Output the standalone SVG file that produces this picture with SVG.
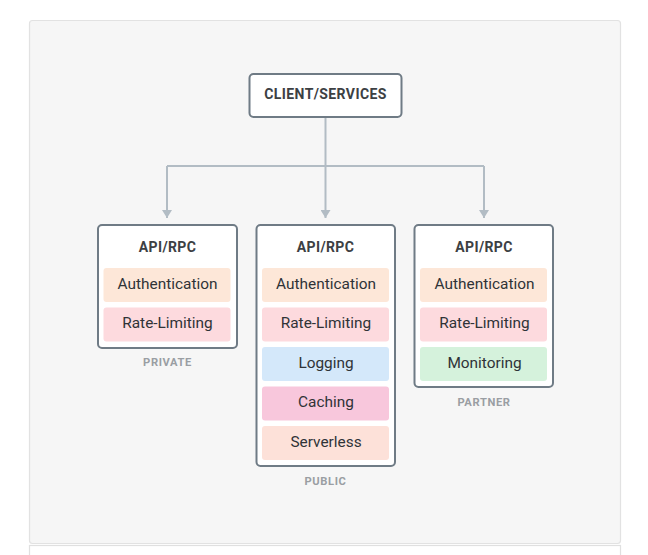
<svg xmlns="http://www.w3.org/2000/svg" width="648" height="555" viewBox="0 0 648 555">
<defs>
<style>
.panel{fill:#f6f6f6;stroke:#e2e2e2;stroke-width:1.2}
.node{fill:#fff;stroke:#6f7b85;stroke-width:2}
.title{font-family:Roboto,"Liberation Sans",sans-serif;font-weight:bold;font-size:14px;fill:#3c4043;text-anchor:middle;letter-spacing:0.4px}
.item{font-family:Roboto,"Liberation Sans",sans-serif;font-size:15.4px;fill:#2f3337;text-anchor:middle}
.lbl{font-family:Roboto,"Liberation Sans",sans-serif;font-weight:bold;font-size:11.2px;fill:#9a9ea3;text-anchor:middle;letter-spacing:0.6px}
.conn{fill:none;stroke:#b2bcc4;stroke-width:2}
.auth{fill:#fde7d8}.rate{fill:#fddade}.log{fill:#d4e8fa}.cache{fill:#f8c7dc}.srv{fill:#fde1d9}.mon{fill:#d5f2dc}
</style>
<marker id="arr" viewBox="0 0 8 10" refX="8" refY="5" markerWidth="8" markerHeight="10" markerUnits="userSpaceOnUse" orient="auto">
<path d="M0,0 L8,5 L0,10 Z" fill="#b2bcc4"/>
</marker>
</defs>
<rect class="panel" x="29.5" y="20.5" width="591" height="523" rx="3"/>
<rect x="29.5" y="545.5" width="591" height="12" fill="#fff" stroke="#e0e0e0" stroke-width="1.2"/>
<g id="connectors">
<path class="conn" d="M325.5,117 V166"/>
<path class="conn" d="M167,166 H484"/>
<line class="conn" x1="167" y1="166" x2="167" y2="218" marker-end="url(#arr)"/>
<line class="conn" x1="325.5" y1="166" x2="325.5" y2="218" marker-end="url(#arr)"/>
<line class="conn" x1="484" y1="166" x2="484" y2="218" marker-end="url(#arr)"/>
</g>
<g id="client">
<rect class="node" x="249.5" y="74" width="152" height="43" rx="4"/>
<text class="title" x="325.5" y="99">CLIENT/SERVICES</text>
</g>
<g id="private">
<rect class="node" x="98" y="225" width="139" height="123" rx="4"/>
<text class="title" x="167.5" y="252">API/RPC</text>
<rect class="auth" x="103.5" y="268" width="127" height="34" rx="3"/>
<text class="item" x="167.5" y="288.8">Authentication</text>
<rect class="rate" x="103.5" y="307.5" width="127" height="34" rx="3"/>
<text class="item" x="167.5" y="328.3">Rate-Limiting</text>
<text class="lbl" x="167.5" y="366">PRIVATE</text>
</g>
<g id="public">
<rect class="node" x="256.5" y="225" width="138.5" height="241" rx="4"/>
<text class="title" x="325.5" y="252">API/RPC</text>
<rect class="auth" x="262" y="268" width="127" height="34" rx="3"/>
<text class="item" x="326" y="288.8">Authentication</text>
<rect class="rate" x="262" y="307.5" width="127" height="34" rx="3"/>
<text class="item" x="326" y="328.3">Rate-Limiting</text>
<rect class="log" x="262" y="347" width="127" height="34" rx="3"/>
<text class="item" x="326" y="367.8">Logging</text>
<rect class="cache" x="262" y="386.5" width="127" height="34" rx="3"/>
<text class="item" x="326" y="407.3">Caching</text>
<rect class="srv" x="262" y="426" width="127" height="34" rx="3"/>
<text class="item" x="326" y="446.8">Serverless</text>
<text class="lbl" x="325.5" y="485">PUBLIC</text>
</g>
<g id="partner">
<rect class="node" x="414.5" y="225" width="138.5" height="162" rx="4"/>
<text class="title" x="484" y="252">API/RPC</text>
<rect class="auth" x="420" y="268" width="127" height="34" rx="3"/>
<text class="item" x="484.5" y="288.8">Authentication</text>
<rect class="rate" x="420" y="307.5" width="127" height="34" rx="3"/>
<text class="item" x="484.5" y="328.3">Rate-Limiting</text>
<rect class="mon" x="420" y="347" width="127" height="34" rx="3"/>
<text class="item" x="484.5" y="367.8">Monitoring</text>
<text class="lbl" x="484" y="406">PARTNER</text>
</g>
</svg>
